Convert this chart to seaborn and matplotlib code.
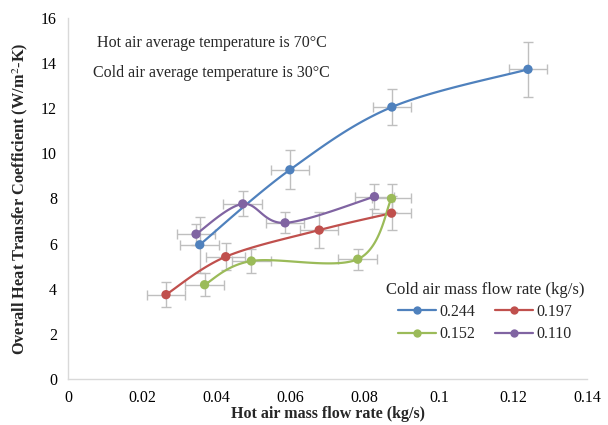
import numpy as np
import pandas as pd
import matplotlib
matplotlib.use("Agg")
import matplotlib.pyplot as plt
import seaborn as sns
from matplotlib.lines import Line2D

# ---------------- data ----------------
series_labels = ["0.244", "0.197", "0.152", "0.110"]
series_colors = ["#4F81BD", "#C0504D", "#9BBB59", "#8064A2"]

hot_flow_0244 = [0.0355, 0.0598, 0.0873, 0.1240]
U_0244 = [5.95, 9.27, 12.05, 13.72]
Uerr_0244 = [1.25, 0.86, 0.80, 1.23]

hot_flow_0197 = [0.0264, 0.0425, 0.0677, 0.0872]
U_0197 = [3.74, 5.42, 6.60, 7.35]
Uerr_0197 = [0.55, 0.59, 0.78, 0.74]

hot_flow_0152 = [0.0368, 0.0494, 0.0781, 0.0872]
U_0152 = [4.18, 5.23, 5.31, 8.00]
Uerr_0152 = [0.50, 0.52, 0.47, 0.62]

hot_flow_0110 = [0.0345, 0.0471, 0.0585, 0.0826]
U_0110 = [6.42, 7.76, 6.92, 8.08]
Uerr_0110 = [0.46, 0.55, 0.47, 0.56]

flow_err = 0.0052

series_x = [hot_flow_0244, hot_flow_0197, hot_flow_0152, hot_flow_0110]
series_y = [U_0244, U_0197, U_0152, U_0110]
series_yerr = [Uerr_0244, Uerr_0197, Uerr_0152, Uerr_0110]

x_ticks = [0, 0.02, 0.04, 0.06, 0.08, 0.1, 0.12, 0.14]
x_ticklabels = ["0", "0.02", "0.04", "0.06", "0.08", "0.1", "0.12", "0.14"]
y_ticks = [0, 2, 4, 6, 8, 10, 12, 14, 16]

# ---------------- helpers ----------------
def smooth(xs, ys, sx, sy, n=40):
    """Excel-style smoothed line (Bezier / Catmull-Rom), computed in screen-like units."""
    P = np.column_stack([np.asarray(xs) * sx, np.asarray(ys) * sy])
    pts = np.vstack([P[0], P, P[-1]])
    out = []
    t = np.linspace(0, 1, n)[:, None]
    for i in range(1, len(pts) - 2):
        p0, p1, p2, p3 = pts[i - 1], pts[i], pts[i + 1], pts[i + 2]
        c1 = p1 + (p2 - p0) / 6.0
        c2 = p2 - (p3 - p1) / 6.0
        b = (1 - t) ** 3 * p1 + 3 * (1 - t) ** 2 * t * c1 + 3 * (1 - t) * t ** 2 * c2 + t ** 3 * p2
        out.append(b if i == 1 else b[1:])
    arr = np.vstack(out)
    return arr[:, 0] / sx, arr[:, 1] / sy

# ---------------- plot ----------------
sns.set_theme(style="white")
plt.rcParams["font.family"] = ["Liberation Serif", "DejaVu Serif"]
plt.rcParams["mathtext.fontset"] = "stix"

fig = plt.figure(figsize=(6.08, 4.25), dpi=100)
ax = fig.add_axes([0.112, 0.108, 0.854, 0.850])

sx, sy = 3710.0, 22.56
handles = {}
for xs, ys, yerr, lab, col in zip(series_x, series_y, series_yerr, series_labels, series_colors):
    ax.errorbar(xs, ys, xerr=flow_err, yerr=yerr, fmt="none", ecolor="#BFBFBF",
                elinewidth=1.0, capsize=3.5, capthick=1.0, zorder=1)
    cx, cy = smooth(xs, ys, sx, sy)
    curve = pd.DataFrame({"x": cx, "y": cy})
    sns.lineplot(data=curve, x="x", y="y", sort=False, estimator=None, color=col,
                 linewidth=1.6, ax=ax, zorder=2)
    pts = pd.DataFrame({"x": xs, "y": ys})
    sns.scatterplot(data=pts, x="x", y="y", color=col, s=45, edgecolor="none",
                    ax=ax, zorder=3)
    handles[lab] = Line2D([0], [0], color=col, linewidth=1.6, marker="o",
                          markersize=6, markeredgewidth=0, label=lab)

ax.set_xlim(0, 0.14)
ax.set_ylim(0, 16)
ax.set_xticks(x_ticks)
ax.set_xticklabels(x_ticklabels)
ax.set_yticks(y_ticks)
ax.tick_params(axis="both", length=0, labelsize=11.5, pad=8, colors="black")

for s in ["top", "right"]:
    ax.spines[s].set_visible(False)
for s in ["left", "bottom"]:
    ax.spines[s].set_color("#D9D9D9")
    ax.spines[s].set_linewidth(1.0)

ax.set_xlabel("Hot air mass flow rate (kg/s)", fontsize=11.5, fontweight="bold", labelpad=0)
ax.set_ylabel("Overall Heat Transfer Coefficient (W/m$^{2}$-K)", fontsize=11.8,
              fontweight="bold", labelpad=8)

fig.text(97 / 608, 1 - 43 / 425, "Hot air average temperature is 70°C",
         fontsize=11.5, ha="left", va="center")
fig.text(93 / 608, 1 - 73 / 425, "Cold air average temperature is 30°C",
         fontsize=11.5, ha="left", va="center")

# legend filled row-wise like the reference: (0.244, 0.197) / (0.152, 0.110)
legend_order = ["0.244", "0.152", "0.197", "0.110"]
leg = ax.legend(handles=[handles[k] for k in legend_order], ncol=2, frameon=False,
                fontsize=11.5, title="Cold air mass flow rate (kg/s)", title_fontsize=12,
                loc="center", bbox_to_anchor=(485 / 608, 1 - 312 / 425),
                bbox_transform=fig.transFigure, handlelength=2.4,
                columnspacing=1.2, handletextpad=0.2, labelspacing=0.4)

fig.savefig("out.png", dpi=100)
